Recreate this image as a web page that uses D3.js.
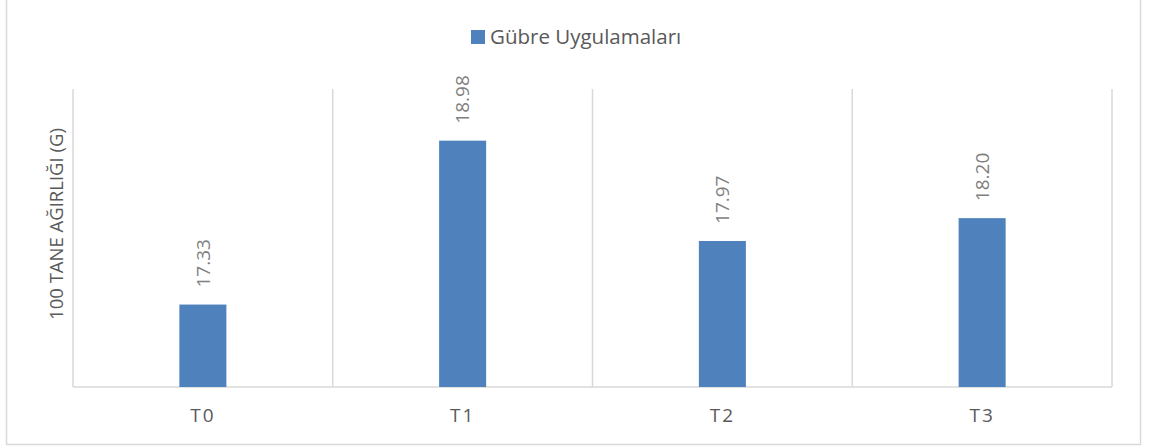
<!DOCTYPE html>
<html>
<head>
<meta charset="utf-8">
<title>bar chart</title>
<style>
  body { margin: 0; background: #fff; }
  text { font-family: "Open Sans", "Liberation Sans", sans-serif; }
</style>
</head>
<body>
<svg width="1150" height="448"></svg>
<script src="https://d3js.org/d3.v7.min.js"></script>
<script>

    var categories = ["T0", "T1", "T2", "T3"];
    var values = [17.33, 18.98, 17.97, 18.20];
    var seriesName = "Gübre Uygulamaları";
    var yTitle = "100 TANE AĞIRLIĞI (G)";

    var svg = d3.select("svg"),
        margin = { top: 89, right: 38, bottom: 61, left: 73 },
        width = +svg.attr("width") - margin.left - margin.right,
        height = +svg.attr("height") - margin.top - margin.bottom;

    // outer frame
    svg.append("rect")
        .attr("x", 6.5).attr("y", -5)
        .attr("width", 1134).attr("height", 449.5)
        .attr("fill", "none")
        .attr("stroke", "#d9d9d9")
        .attr("stroke-width", 1.5);

    var g = svg.append("g").attr("transform", "translate(" + margin.left + "," + margin.top + ")");

    var x = d3.scaleBand()
        .domain(categories)
        .range([0, width])
        .padding(0);

    var y = d3.scaleLinear()
        .domain([16.5, 19.5])
        .range([height, 0]);

    // vertical gridlines at category boundaries
    var bounds = categories.map(function (c) { return x(c); }).concat([width]);
    g.selectAll(".vgrid")
        .data(bounds)
        .enter().append("line")
        .attr("x1", function (d) { return d; })
        .attr("x2", function (d) { return d; })
        .attr("y1", 0)
        .attr("y2", height)
        .attr("stroke", "#d9d9d9")
        .attr("stroke-width", 1.5);

    // baseline
    g.append("line")
        .attr("x1", 0).attr("x2", width)
        .attr("y1", height).attr("y2", height)
        .attr("stroke", "#d9d9d9")
        .attr("stroke-width", 1.5);

    var barW = x.bandwidth() * 0.181;

    g.selectAll(".bar")
        .data(values)
        .enter().append("rect")
        .attr("x", function (d, i) { return x(categories[i]) + x.bandwidth() / 2 - barW / 2; })
        .attr("y", function (d) { return y(d); })
        .attr("width", barW)
        .attr("height", function (d) { return height - y(d); })
        .attr("fill", "#4f81bd");

    g.selectAll(".val")
        .data(values)
        .enter().append("text")
        .attr("transform", function (d, i) {
            return "translate(" + (x(categories[i]) + x.bandwidth() / 2) + "," + (y(d) - 17) + ") rotate(-90)";
        })
        .attr("dy", "0.35em")
        .attr("fill", "#7f7f7f")
        .attr("font-size", "19px")
        .text(function (d) { return d.toFixed(2); });

    // x axis labels
    g.selectAll(".xlab")
        .data(categories)
        .enter().append("text")
        .attr("x", function (d) { return x(d) + x.bandwidth() / 2; })
        .attr("y", height + 35)
        .attr("text-anchor", "middle")
        .attr("fill", "#595959")
        .attr("font-size", "19px")
        .attr("letter-spacing", "2px")
        .text(function (d) { return d; });

    // y title
    svg.append("text")
        .attr("transform", "translate(57,224) rotate(-90)")
        .attr("text-anchor", "middle")
        .attr("dy", "0.35em")
        .attr("fill", "#595959")
        .attr("font-size", "18.5px")
        .text(yTitle);

    // legend
    var legend = svg.append("g").attr("transform", "translate(471,30)");
    legend.append("rect")
        .attr("width", 14).attr("height", 14)
        .attr("fill", "#4f81bd");
    legend.append("text")
        .attr("x", 19).attr("y", 14)
        .attr("fill", "#595959")
        .attr("font-size", "20.5px")
        .text(seriesName);

</script>
</body>
</html>
